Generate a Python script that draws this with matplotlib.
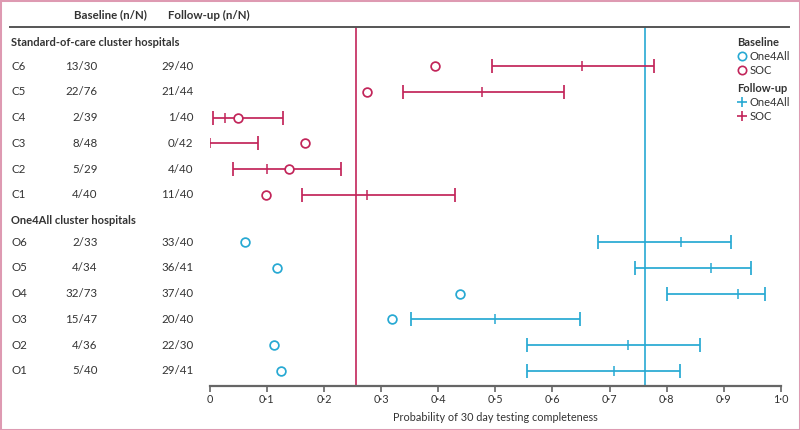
import matplotlib
matplotlib.use("Agg")
import matplotlib.pyplot as plt
from matplotlib import font_manager
from matplotlib.lines import Line2D
from matplotlib.patches import Rectangle

# ---------------- data ----------------
soc_labels = ['C6', 'C5', 'C4', 'C3', 'C2', 'C1']
soc_base_n = ['13/30', '22/76', '2/39', '8/48', '5/29', '4/40']
soc_follow_n = ['29/40', '21/44', '1/40', '0/42', '4/40', '11/40']
soc_base_p = [0.394, 0.276, 0.050, 0.167, 0.138, 0.098]
soc_follow_mid = [0.651, 0.477, 0.026, 0.000, 0.100, 0.275]
soc_follow_lo = [0.494, 0.338, 0.005, -0.004, 0.040, 0.161]
soc_follow_hi = [0.778, 0.620, 0.129, 0.084, 0.230, 0.429]

o4a_labels = ['O6', 'O5', 'O4', 'O3', 'O2', 'O1']
o4a_base_n = ['2/33', '4/34', '32/73', '15/47', '4/36', '5/40']
o4a_follow_n = ['33/40', '36/41', '37/40', '20/40', '22/30', '29/41']
o4a_base_p = [0.062, 0.118, 0.438, 0.319, 0.112, 0.125]
o4a_follow_mid = [0.825, 0.878, 0.924, 0.499, 0.733, 0.707]
o4a_follow_lo = [0.680, 0.745, 0.801, 0.352, 0.555, 0.555]
o4a_follow_hi = [0.912, 0.947, 0.972, 0.648, 0.858, 0.824]

soc_ref = 0.256
o4a_ref = 0.7625

xticks = [0, 0.1, 0.2, 0.3, 0.4, 0.5, 0.6, 0.7, 0.8, 0.9, 1.0]
xtick_labels = ['0', '0·1', '0·2', '0·3', '0·4', '0·5', '0·6', '0·7', '0·8', '0·9', '1·0']

# ---------------- style ----------------
names = {f.name for f in font_manager.fontManager.ttflist}
fam = 'Liberation Sans Narrow' if 'Liberation Sans Narrow' in names else 'Lato'
plt.rcParams['font.family'] = [fam, 'DejaVu Sans']

RED = '#C2255A'
BLUE = '#27A9D3'
TXT = '#333333'
GREY = '#666666'

W, H = 800, 430
fig = plt.figure(figsize=(8, 4.3), dpi=100)

def fx(px):
    return px / W

def fy(py):
    return 1 - py / H

ax_l, ax_r, ax_t, ax_b = 209.7, 781.0, 27.0, 386.0
ax = fig.add_axes([fx(ax_l), fy(ax_b), fx(ax_r) - fx(ax_l), (ax_b - ax_t) / H])

ROW0, ROWH = 66.0, 25.8  # pixel y of first row, row height

def rowy(py):
    return (py - ROW0) / ROWH

ax.set_xlim(0, 1.0)
ax.set_ylim(rowy(ax_b), rowy(ax_t))

soc_y = [rowy(66 + 25.8 * i) for i in range(len(soc_labels))]
o4a_y = [rowy(242 + 25.8 * i) for i in range(len(o4a_labels))]

for s in ['top', 'right', 'left']:
    ax.spines[s].set_visible(False)
ax.spines['bottom'].set_color(GREY)
ax.spines['bottom'].set_linewidth(1.6)
ax.set_yticks([])
ax.set_xticks(xticks)
ax.set_xticklabels(xtick_labels, fontsize=7.8, color=TXT)
ax.tick_params(axis='x', direction='out', length=4, width=1.2, color=GREY, pad=2)
ax.set_xlabel('Probability of 30 day testing completeness', fontsize=7.8, color=TXT, labelpad=5)

# reference lines
ax.axvline(soc_ref, color=RED, lw=1.2, zorder=1)
ax.axvline(o4a_ref, color=BLUE, lw=1.2, zorder=1)

def draw_group(ys, base, lo, mid, hi, color):
    ax.hlines(ys, lo, hi, color=color, lw=1.25, zorder=2)
    ax.plot(lo, ys, ls='none', marker='|', ms=10, mew=1.25, color=color, zorder=2)
    ax.plot(hi, ys, ls='none', marker='|', ms=10, mew=1.25, color=color, zorder=2)
    ax.plot(mid, ys, ls='none', marker='|', ms=6.5, mew=1.1, color=color, zorder=2)
    ax.plot(base, ys, ls='none', marker='o', ms=6.3, mfc='white', mec=color, mew=1.25, zorder=3)

draw_group(soc_y, soc_base_p, soc_follow_lo, soc_follow_mid, soc_follow_hi, RED)
draw_group(o4a_y, o4a_base_p, o4a_follow_lo, o4a_follow_mid, o4a_follow_hi, BLUE)

# ---------------- left-side table text ----------------
FS = 8.3
def row_texts(py_list, labels, base_n, follow_n):
    for py, lab, b, f in zip(py_list, labels, base_n, follow_n):
        fig.text(fx(11), fy(py), lab, fontsize=FS, color=TXT, ha='left', va='center')
        fig.text(fx(97.5), fy(py), b, fontsize=FS, color=TXT, ha='right', va='center')
        fig.text(fx(193.5), fy(py), f, fontsize=FS, color=TXT, ha='right', va='center')

row_texts([66 + 25.8 * i for i in range(6)], soc_labels, soc_base_n, soc_follow_n)
row_texts([242 + 25.8 * i for i in range(6)], o4a_labels, o4a_base_n, o4a_follow_n)

fig.text(fx(11), fy(43), 'Standard-of-care cluster hospitals', fontsize=8.0, color=TXT,
         fontweight='bold', ha='left', va='center')
fig.text(fx(11), fy(220), 'One4All cluster hospitals', fontsize=8.0, color=TXT,
         fontweight='bold', ha='left', va='center')

fig.text(fx(74), fy(15), 'Baseline (n/N)', fontsize=FS, color=TXT, fontweight='bold',
         ha='left', va='center')
fig.text(fx(168), fy(15), 'Follow-up (n/N)', fontsize=FS, color=TXT, fontweight='bold',
         ha='left', va='center')

# header rule
fig.add_artist(Line2D([fx(10), fx(789)], [fy(27), fy(27)], color='#555555', lw=1.4,
                      transform=fig.transFigure))

# ---------------- legend ----------------
LFS = 8.0
fig.text(fx(737), fy(43), 'Baseline', fontsize=LFS, color=TXT, fontweight='bold',
         ha='left', va='center')
fig.text(fx(737), fy(89), 'Follow-up', fontsize=LFS, color=TXT, fontweight='bold',
         ha='left', va='center')
leg_items = [(56, 'o', BLUE, 'One4All'), (70, 'o', RED, 'SOC'),
             (102, '+', BLUE, 'One4All'), (116, '+', RED, 'SOC')]
for py, mk, col, lab in leg_items:
    if mk == 'o':
        fig.add_artist(Line2D([fx(742)], [fy(py)], marker='o', ms=6.0, mfc='white', mec=col,
                              mew=1.2, ls='none', transform=fig.transFigure))
    else:
        fig.add_artist(Line2D([fx(742)], [fy(py)], marker='+', ms=7.5, mew=1.2, color=col,
                              ls='none', transform=fig.transFigure))
    fig.text(fx(750), fy(py), lab, fontsize=LFS, color=TXT, ha='left', va='center')

# pink frame
fig.add_artist(Rectangle((0, 0), 1, 1, transform=fig.transFigure, fill=False,
                         edgecolor='#DE9AB2', lw=2.2))

fig.savefig('out.png', dpi=100)
